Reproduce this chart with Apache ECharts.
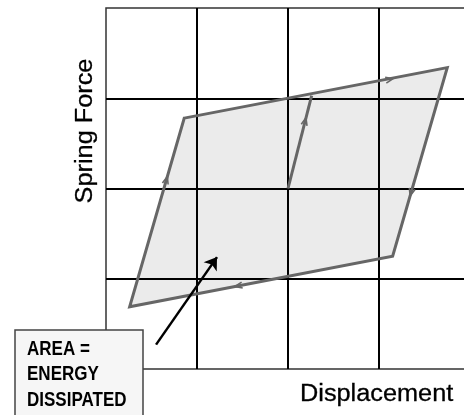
<!DOCTYPE html>
<html>
<head>
<meta charset="utf-8">
<script src="https://cdn.jsdelivr.net/npm/echarts@6/dist/echarts.min.js"></script>
<style>html,body{margin:0;padding:0;background:#fff}#c{width:464px;height:415px}</style>
</head>
<body>
<div id="c"></div>
<script>
// Hysteresis loop (data units: grid cells)
const loopX = [2, 2.26, 3.75, 3.15, 0.26, 0.86];
const loopY = [2, 3.03, 3.34, 1.25, 0.69, 2.78];
// polygon corners (indices into loop): TL, TR, BR, BL
const polyIdx = [5, 2, 3, 4];
// path traversal order (segments between consecutive indices)
const pathIdx = [0, 1, 2, 3, 4, 5, 1];
// arrowheads: [segment index, fraction along segment]
const arrowSeg = [0, 1, 2, 3, 4];
const arrowFrac = [0.76, 0.6, 0.68, 0.6, 0.69];
// pointer arrow from label box into the loop
const pointerX = [0.55, 1.22];
const pointerY = [0.27, 1.24];
const xLabel = 'Displacement';
const yLabel = 'Spring Force';
const boxText = ['AREA =', 'ENERGY', 'DISSIPATED'];

const chart = echarts.init(document.getElementById('c'));
const axisBase = {
  type: 'value', min: 0, max: 4, interval: 1,
  axisLabel: {show: false}, axisTick: {show: false},
  axisLine: {show: false},
  splitLine: {show: true, lineStyle: {color: ['rgba(0,0,0,0)', '#000', '#000', '#000', 'rgba(0,0,0,0)'], width: 2}}
};
chart.setOption({
  animation: false,
  grid: {left: 106, top: 8, width: 364, height: 361, outerBoundsMode: 'none', containLabel: false, show: true, borderColor: '#333', borderWidth: 1.5, backgroundColor: 'transparent'},
  xAxis: Object.assign({}, axisBase),
  yAxis: Object.assign({}, axisBase),
  series: [
    {
      type: 'custom', z: 3,
      data: [0],
      renderItem: function (params, api) {
        const pts = polyIdx.map(i => api.coord([loopX[i], loopY[i]]));
        const path = pathIdx.map(i => api.coord([loopX[i], loopY[i]]));
        const children = [
          {type: 'polygon', shape: {points: pts}, style: {fill: 'rgba(0,0,0,0.08)', stroke: null}},
          {type: 'polyline', shape: {points: path.slice(0, 2)}, style: {fill: null, stroke: '#666', lineWidth: 3}},
          {type: 'polygon', shape: {points: pts}, style: {fill: null, stroke: '#666', lineWidth: 3, lineJoin: 'miter'}}
        ];
        for (let k = 0; k < arrowSeg.length; k++) {
          const a = path[arrowSeg[k]], b = path[arrowSeg[k] + 1], f = arrowFrac[k];
          const tx = a[0] + (b[0] - a[0]) * f, ty = a[1] + (b[1] - a[1]) * f;
          const len = Math.hypot(b[0] - a[0], b[1] - a[1]);
          const ux = (b[0] - a[0]) / len, uy = (b[1] - a[1]) / len;
          const L = 8, ang = 0.38;
          const c = Math.cos(ang), s = Math.sin(ang);
          const l1 = [tx - L * (ux * c - uy * s), ty - L * (uy * c + ux * s)];
          const l2 = [tx - L * (ux * c + uy * s), ty - L * (uy * c - ux * s)];
          children.push({type: 'polyline', shape: {points: [l1, [tx, ty], l2]}, style: {fill: null, stroke: '#666', lineWidth: 1.6}});
        }
        return {type: 'group', children: children};
      }
    },
    {
      type: 'lines', coordinateSystem: 'cartesian2d', z: 4,
      symbol: ['none', 'arrow'], symbolSize: [0, 12],
      lineStyle: {color: '#000', width: 2.5, opacity: 1},
      data: [{coords: [[pointerX[0], pointerY[0]], [pointerX[1], pointerY[1]]]}]
    }
  ],
  graphic: [
    {type: 'text', x: 300, y: 395, scaleX: 1.1, style: {text: xLabel, font: '23px "Liberation Sans", Arial, sans-serif', fill: '#000', verticalAlign: 'middle', stroke: '#000', lineWidth: 0.3}},
    {type: 'text', x: 86, y: 131, rotation: Math.PI / 2, scaleX: 1.1, style: {text: yLabel, font: '23px "Liberation Sans", Arial, sans-serif', fill: '#000', align: 'center', verticalAlign: 'middle', stroke: '#000', lineWidth: 0.3}},
    {type: 'rect', shape: {x: 15, y: 330, width: 128, height: 100}, style: {fill: '#f6f6f6', stroke: '#444', lineWidth: 1.5}, z: 10},
    {type: 'text', x: 27, y: 336, scaleX: 0.81, z: 11, style: {text: boxText.join('\n'), font: 'bold 21px "Liberation Sans", Arial, sans-serif', lineHeight: 25.5, fill: '#000', verticalAlign: 'top'}}
  ]
});
</script>
</body>
</html>
